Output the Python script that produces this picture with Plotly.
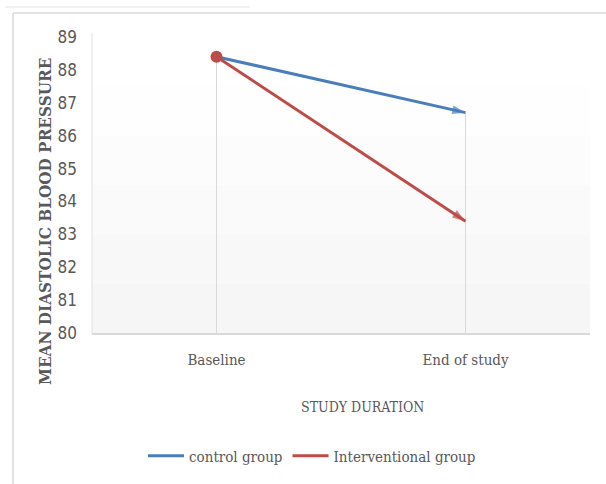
import plotly.graph_objects as go

# Study time points and mean diastolic blood pressure per group
categories = ["Baseline", "End of study"]
control_group = [88.4, 86.7]
interventional_group = [88.4, 83.4]
y_ticks = [80, 81, 82, 83, 84, 85, 86, 87, 88, 89]

BLUE = "#4A7EBB"
RED = "#BE4B48"
GRAY_TXT = "#595959"
SERIF = "DejaVu Serif Condensed, Liberation Serif, serif"
W, H = 606, 484
L, R, T, B = 92, 16, 37, 151

def px_x(p):
    return (p - L) / (W - L - R)

def px_y(p):
    return 1 - (p - T) / (H - T - B)

fig = go.Figure()

# drop lines from the highest point of each category down to the axis
for i, cat in enumerate(categories):
    top = max(control_group[i], interventional_group[i])
    fig.add_trace(go.Scatter(
        x=[cat, cat], y=[y_ticks[0], top], mode="lines",
        line=dict(color="#D9D9D9", width=1), showlegend=False, hoverinfo="skip"))

series = [("control group", control_group, BLUE, False),
          ("Interventional group", interventional_group, RED, True)]

for name, vals, color, start_dot in series:
    fig.add_trace(go.Scatter(
        x=categories, y=vals, name=name, mode="lines",
        line=dict(color=color, width=3)))
    # arrow head at the end of the line
    fig.add_trace(go.Scatter(
        x=categories, y=vals, mode="markers", showlegend=False, hoverinfo="skip",
        marker=dict(symbol="arrow", size=[0, 14], color=color,
                    angleref="previous", line=dict(width=0))))
    if start_dot:
        fig.add_trace(go.Scatter(
            x=categories[:1], y=vals[:1], mode="markers", showlegend=False,
            marker=dict(symbol="circle", size=12, color=color, line=dict(width=0))))

# soft vertical gradient behind the plot area
bands = ["#FFFFFF", "#FEFEFE", "#FCFCFC", "#FAFAFA", "#F8F8F8", "#F6F6F6"]
n = len(bands)
for k, c in enumerate(bands):
    fig.add_shape(type="rect", xref="paper", yref="paper", layer="below",
                  x0=0, x1=1, y0=1 - (k + 1) / n, y1=1 - k / n,
                  fillcolor=c, line=dict(width=0))

# outer chart frame
frame = "#D9D9D9"
fig.add_shape(type="line", xref="paper", yref="paper",
              x0=px_x(13), x1=px_x(606), y0=px_y(13), y1=px_y(13),
              line=dict(color=frame, width=1.5))
fig.add_shape(type="line", xref="paper", yref="paper",
              x0=px_x(13), x1=px_x(13), y0=px_y(13), y1=px_y(484),
              line=dict(color=frame, width=1.5))
fig.add_shape(type="line", xref="paper", yref="paper",
              x0=px_x(5), x1=px_x(250), y0=px_y(7), y1=px_y(7),
              line=dict(color="#E3E3E3", width=1))
# plot area outline
fig.add_shape(type="line", xref="paper", yref="paper",
              x0=0, x1=0, y0=0, y1=px_y(33),
              line=dict(color="#E0E0E0", width=1))

fig.add_annotation(
    text="<b>MEAN DIASTOLIC BLOOD PRESSURE</b>", textangle=-90,
    xref="paper", yref="paper", x=px_x(45), y=px_y(222),
    xanchor="center", yanchor="middle",
    showarrow=False, font=dict(family=SERIF, size=17, color=GRAY_TXT))
fig.add_annotation(
    text="STUDY DURATION", xref="paper", yref="paper",
    x=px_x(362), y=px_y(407), xanchor="center", yanchor="middle",
    showarrow=False, font=dict(family=SERIF, size=14, color=GRAY_TXT))

fig.update_layout(
    width=W, height=H,
    margin=dict(l=L, r=R, t=T, b=B),
    paper_bgcolor="white", plot_bgcolor="rgba(0,0,0,0)",
    showlegend=True,
    legend=dict(orientation="h", x=px_x(143), y=px_y(456), yanchor="middle",
                xanchor="left", font=dict(family=SERIF, size=15, color=GRAY_TXT),
                itemwidth=36, tracegroupgap=0, bgcolor="rgba(0,0,0,0)"),
    xaxis=dict(type="category", range=[-0.5, 1.5], showgrid=False,
               showline=True, linecolor="#D9D9D9", linewidth=2,
               ticks="", tickfont=dict(family=SERIF, size=15, color=GRAY_TXT),
               ticklabelstandoff=12),
    yaxis=dict(range=[80, 89], tickvals=y_ticks, showgrid=False, zeroline=False,
               showline=False, ticks="",
               tickfont=dict(family="Liberation Sans Narrow, DejaVu Sans Condensed, sans-serif",
                             size=17, color=GRAY_TXT),
               ticklabelstandoff=14),
)

fig.write_html("out.html")
